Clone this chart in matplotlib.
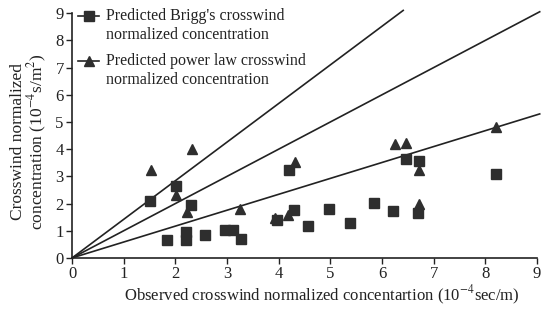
import matplotlib
matplotlib.use("Agg")
import matplotlib.pyplot as plt
from matplotlib.lines import Line2D
from matplotlib.legend_handler import HandlerLine2D

# Observed (x) and predicted (y) crosswind normalized concentrations
brigg_x = [1.51, 2.01, 2.30, 1.83, 2.21, 2.21, 2.58, 2.96, 3.12, 3.26, 3.96,
           4.19, 4.30, 4.57, 4.98, 5.38, 5.85, 6.22, 6.46, 6.72, 6.70, 8.21]
brigg_y = [2.10, 2.63, 1.96, 0.66, 0.97, 0.66, 0.84, 1.03, 1.03, 0.70, 1.38,
           3.22, 1.77, 1.19, 1.81, 1.28, 2.02, 1.73, 3.62, 3.55, 1.65, 3.09]

power_x = [1.52, 2.32, 2.01, 2.23, 3.25, 3.92, 4.17, 4.32, 6.24, 6.47, 6.72, 6.72, 8.20]
power_y = [3.22, 4.01, 2.32, 1.67, 1.80, 1.45, 1.59, 3.52, 4.17, 4.21, 3.25, 1.99, 4.81]

# Reference lines through the origin (slopes)
ref_slopes = [1.42, 1.0, 0.585]

ticks = list(range(0, 10))
legend_labels = ["Predicted Brigg's crosswind\nnormalized concentration",
                 "Predicted power law crosswind\nnormalized concentration"]

plt.rcParams['font.family'] = ['Liberation Serif', 'DejaVu Serif']
plt.rcParams['mathtext.fontset'] = 'stix'


class TopHandler(HandlerLine2D):
    """Align legend handle with the first line of a two-line label."""
    def __init__(self, shift=6.5, **kw):
        super().__init__(**kw)
        self.shift = shift

    def create_artists(self, legend, orig_handle, xdescent, ydescent, width,
                       height, fontsize, trans):
        return super().create_artists(legend, orig_handle, xdescent,
                                      ydescent - self.shift, width, height,
                                      fontsize, trans)


fig = plt.figure(figsize=(5.42, 3.2), dpi=100)
ax = fig.add_axes([0.133, 0.194, 0.858, 0.765])

col = '#2e2e2e'
for s in ref_slopes:
    x_end = min(9.05, 9.1 / s)
    ax.plot([0, x_end], [0, s * x_end], color='#222222', lw=1.2, clip_on=False, zorder=2)

ax.plot(brigg_x, brigg_y, ls='none', marker='s', ms=7.2, color=col, mec=col, zorder=3)
ax.plot(power_x, power_y, ls='none', marker='^', ms=7.5, color=col, mec=col, zorder=3)

ax.set_xlim(0, 9)
ax.set_ylim(0, 9)
ax.set_xticks(ticks)
ax.set_yticks(ticks)
ax.tick_params(direction='out', length=4, width=1, labelsize=12, colors='#222222', pad=2)
for sp in ['top', 'right']:
    ax.spines[sp].set_visible(False)
for sp in ['left', 'bottom']:
    ax.spines[sp].set_linewidth(1.2)
    ax.spines[sp].set_color('#222222')

ax.set_xlabel("Observed crosswind normalized concentartion (10$^{-4}$sec/m)",
              fontsize=12, color='#222222')
ax.xaxis.set_label_coords(0.537, -0.105)
ax.set_ylabel("Crosswind normalized\nconcentration (10$^{-4}$s/m$^{2}$)",
              fontsize=12.5, color='#222222', linespacing=0.95)
ax.yaxis.set_label_coords(-0.05, 0.475)

h1 = Line2D([], [], color='#222222', lw=1.2, marker='s', ms=7.2, mfc=col, mec=col)
h2 = Line2D([], [], color='#222222', lw=1.2, marker='^', ms=7.5, mfc=col, mec=col)
leg = ax.legend([h1, h2], legend_labels, loc='upper left', bbox_to_anchor=(0.0, 1.045),
                frameon=False, fontsize=11.5, handlelength=1.3, handletextpad=0.4,
                labelspacing=0.65, borderaxespad=0.2, borderpad=0.2,
                handler_map={Line2D: TopHandler(shift=14)})
for t in leg.get_texts():
    t.set_linespacing(1.2)
    t.set_color('#222222')

fig.savefig("out.png", dpi=100)
